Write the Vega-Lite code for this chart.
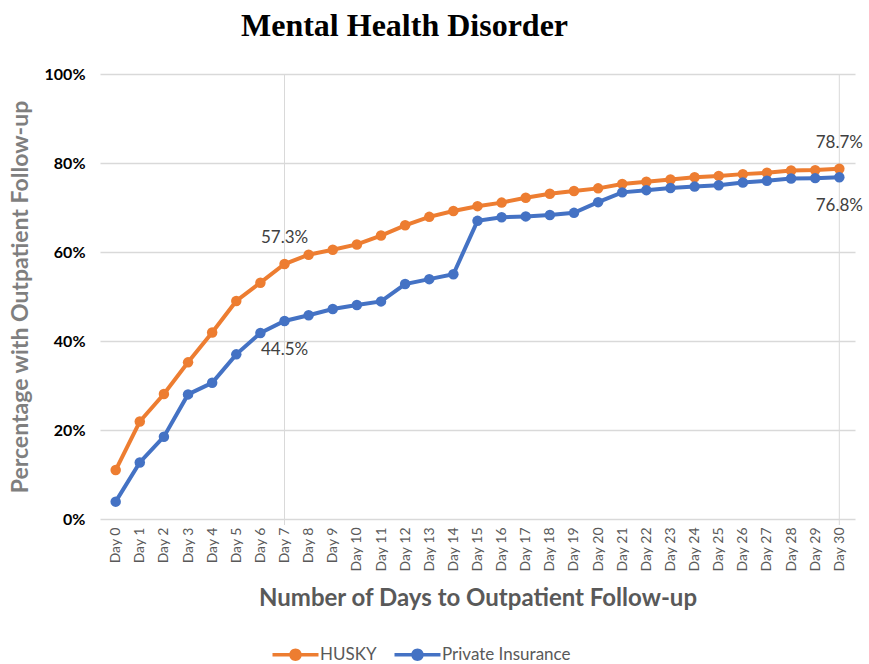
{
  "$schema": "https://vega.github.io/schema/vega-lite/v6.json",
  "width": 755,
  "height": 445,
  "autosize": "none",
  "padding": {"left": 100, "top": 74, "right": 14, "bottom": 145},
  "background": "white",
  "title": {
    "text": "Mental Health Disorder",
    "font": "Liberation Serif",
    "fontSize": 32,
    "fontWeight": "bold",
    "color": "#000000",
    "anchor": "middle",
    "dx": -73,
    "offset": 23
  },
  "config": {
    "view": {"stroke": null},
    "font": "Lato"
  },
  "datasets": {
    "series": [
      {"day": "Day 0", "group": "HUSKY", "pct": 11.0},
      {"day": "Day 1", "group": "HUSKY", "pct": 21.9},
      {"day": "Day 2", "group": "HUSKY", "pct": 28.1},
      {"day": "Day 3", "group": "HUSKY", "pct": 35.2},
      {"day": "Day 4", "group": "HUSKY", "pct": 41.9},
      {"day": "Day 5", "group": "HUSKY", "pct": 49.0},
      {"day": "Day 6", "group": "HUSKY", "pct": 53.1},
      {"day": "Day 7", "group": "HUSKY", "pct": 57.3},
      {"day": "Day 8", "group": "HUSKY", "pct": 59.4},
      {"day": "Day 9", "group": "HUSKY", "pct": 60.5},
      {"day": "Day 10", "group": "HUSKY", "pct": 61.7},
      {"day": "Day 11", "group": "HUSKY", "pct": 63.7},
      {"day": "Day 12", "group": "HUSKY", "pct": 66.0},
      {"day": "Day 13", "group": "HUSKY", "pct": 67.9},
      {"day": "Day 14", "group": "HUSKY", "pct": 69.2},
      {"day": "Day 15", "group": "HUSKY", "pct": 70.3},
      {"day": "Day 16", "group": "HUSKY", "pct": 71.1},
      {"day": "Day 17", "group": "HUSKY", "pct": 72.2},
      {"day": "Day 18", "group": "HUSKY", "pct": 73.1},
      {"day": "Day 19", "group": "HUSKY", "pct": 73.7},
      {"day": "Day 20", "group": "HUSKY", "pct": 74.3},
      {"day": "Day 21", "group": "HUSKY", "pct": 75.3},
      {"day": "Day 22", "group": "HUSKY", "pct": 75.8},
      {"day": "Day 23", "group": "HUSKY", "pct": 76.3},
      {"day": "Day 24", "group": "HUSKY", "pct": 76.8},
      {"day": "Day 25", "group": "HUSKY", "pct": 77.1},
      {"day": "Day 26", "group": "HUSKY", "pct": 77.5},
      {"day": "Day 27", "group": "HUSKY", "pct": 77.8},
      {"day": "Day 28", "group": "HUSKY", "pct": 78.3},
      {"day": "Day 29", "group": "HUSKY", "pct": 78.4},
      {"day": "Day 30", "group": "HUSKY", "pct": 78.7},
      {"day": "Day 0", "group": "Private Insurance", "pct": 3.9},
      {"day": "Day 1", "group": "Private Insurance", "pct": 12.7},
      {"day": "Day 2", "group": "Private Insurance", "pct": 18.5},
      {"day": "Day 3", "group": "Private Insurance", "pct": 28.0},
      {"day": "Day 4", "group": "Private Insurance", "pct": 30.6},
      {"day": "Day 5", "group": "Private Insurance", "pct": 37.0},
      {"day": "Day 6", "group": "Private Insurance", "pct": 41.8},
      {"day": "Day 7", "group": "Private Insurance", "pct": 44.5},
      {"day": "Day 8", "group": "Private Insurance", "pct": 45.8},
      {"day": "Day 9", "group": "Private Insurance", "pct": 47.2},
      {"day": "Day 10", "group": "Private Insurance", "pct": 48.1},
      {"day": "Day 11", "group": "Private Insurance", "pct": 48.9},
      {"day": "Day 12", "group": "Private Insurance", "pct": 52.8},
      {"day": "Day 13", "group": "Private Insurance", "pct": 53.9},
      {"day": "Day 14", "group": "Private Insurance", "pct": 55.0},
      {"day": "Day 15", "group": "Private Insurance", "pct": 67.0},
      {"day": "Day 16", "group": "Private Insurance", "pct": 67.8},
      {"day": "Day 17", "group": "Private Insurance", "pct": 68.0},
      {"day": "Day 18", "group": "Private Insurance", "pct": 68.3},
      {"day": "Day 19", "group": "Private Insurance", "pct": 68.8},
      {"day": "Day 20", "group": "Private Insurance", "pct": 71.2},
      {"day": "Day 21", "group": "Private Insurance", "pct": 73.4},
      {"day": "Day 22", "group": "Private Insurance", "pct": 73.9},
      {"day": "Day 23", "group": "Private Insurance", "pct": 74.4},
      {"day": "Day 24", "group": "Private Insurance", "pct": 74.7},
      {"day": "Day 25", "group": "Private Insurance", "pct": 75.0},
      {"day": "Day 26", "group": "Private Insurance", "pct": 75.6},
      {"day": "Day 27", "group": "Private Insurance", "pct": 76.0},
      {"day": "Day 28", "group": "Private Insurance", "pct": 76.5},
      {"day": "Day 29", "group": "Private Insurance", "pct": 76.6},
      {"day": "Day 30", "group": "Private Insurance", "pct": 76.8}
    ],
    "labels": [
      {"day": "Day 7", "group": "HUSKY", "pct": 57.3, "text": "57.3%", "pos": "above"},
      {"day": "Day 7", "group": "Private Insurance", "pct": 44.5, "text": "44.5%", "pos": "below"},
      {"day": "Day 30", "group": "HUSKY", "pct": 78.7, "text": "78.7%", "pos": "above"},
      {"day": "Day 30", "group": "Private Insurance", "pct": 76.8, "text": "76.8%", "pos": "below"}
    ]
  },
  "encoding": {
    "x": {
      "field": "day",
      "type": "ordinal",
      "sort": null,
      "scale": {
        "type": "point",
        "padding": 0.65,
        "domain": ["Day 0", "Day 1", "Day 2", "Day 3", "Day 4", "Day 5", "Day 6", "Day 7", "Day 8", "Day 9", "Day 10", "Day 11", "Day 12", "Day 13", "Day 14", "Day 15", "Day 16", "Day 17", "Day 18", "Day 19", "Day 20", "Day 21", "Day 22", "Day 23", "Day 24", "Day 25", "Day 26", "Day 27", "Day 28", "Day 29", "Day 30"]
      },
      "axis": {
        "title": "Number of Days to Outpatient Follow-up",
        "titleFont": "Lato",
        "titleFontSize": 24,
        "titleFontWeight": "bold",
        "titleColor": "#595959",
        "titlePadding": 15,
        "labelAngle": -90,
        "labelAlign": "right",
        "labelBaseline": "middle",
        "labelFont": "Lato",
        "labelFontSize": 14,
        "labelColor": "#595959",
        "labelPadding": 8,
        "ticks": false,
        "domain": false,
        "grid": false
      }
    },
    "y": {
      "field": "pct",
      "type": "quantitative",
      "scale": {"domain": [0, 100]},
      "axis": {
        "title": "Percentage with Outpatient Follow-up",
        "titleFont": "Lato",
        "titleFontSize": 23,
        "titleFontWeight": "bold",
        "titleColor": "#7f7f7f",
        "titlePadding": 12,
        "values": [0, 20, 40, 60, 80, 100],
        "labelExpr": "datum.value + '%'",
        "labelFont": "Lato",
        "labelFontSize": 16,
        "labelFontWeight": "bold",
        "labelColor": "#000000",
        "labelPadding": 15,
        "ticks": false,
        "domain": false,
        "grid": true,
        "gridColor": "#d9d9d9",
        "gridWidth": 1.5
      }
    }
  },
  "layer": [
    {
      "data": {"name": "labels"},
      "transform": [{"filter": "datum.pos == 'above'"}],
      "mark": {"type": "rule", "color": "#d9d9d9", "strokeWidth": 1, "y": 0, "y2": {"expr": "height + 6"}},
      "encoding": {"y": null}
    },
    {
      "data": {"name": "series"},
      "mark": {"type": "line", "strokeWidth": 4},
      "encoding": {
        "color": {
          "field": "group",
          "type": "nominal",
          "scale": {"domain": ["HUSKY", "Private Insurance"], "range": ["#ED7D31", "#4472C4"]},
          "legend": {
            "title": null,
            "orient": "none",
            "legendX": 187,
            "legendY": 572,
            "direction": "horizontal",
            "symbolType": "M-4.6,-0.35 L-1,-0.35 L-1,0.35 L-4.6,0.35 Z M1,-0.35 L4.6,-0.35 L4.6,0.35 L1,0.35 Z M-1.25,0 A1.25,1.25 0 1,1 1.25,0 A1.25,1.25 0 1,1 -1.25,0 Z",
            "symbolSize": 100,
            "symbolStrokeWidth": 0,
            "labelFont": "Lato",
            "labelFontSize": 17,
            "labelColor": "#595959",
            "labelOffset": 16,
            "columnPadding": 17,
            "encode": {
              "symbols": {"update": {"fill": {"scale": "color", "field": "value"}, "strokeWidth": {"value": 0}, "fillOpacity": {"value": 1}}}
            }
          }
        }
      }
    },
    {
      "data": {"name": "series"},
      "mark": {"type": "circle", "size": 110, "opacity": 1},
      "encoding": {
        "color": {"field": "group", "type": "nominal", "legend": null}
      }
    },
    {
      "data": {"name": "labels"},
      "transform": [{"filter": "datum.pos == 'above'"}],
      "mark": {"type": "text", "font": "Lato", "fontSize": 17, "color": "#404040", "align": "center", "baseline": "middle", "dy": -26},
      "encoding": {"text": {"field": "text"}}
    },
    {
      "data": {"name": "labels"},
      "transform": [{"filter": "datum.pos == 'below'"}],
      "mark": {"type": "text", "font": "Lato", "fontSize": 17, "color": "#404040", "align": "center", "baseline": "middle", "dy": 29},
      "encoding": {"text": {"field": "text"}}
    }
  ]
}
